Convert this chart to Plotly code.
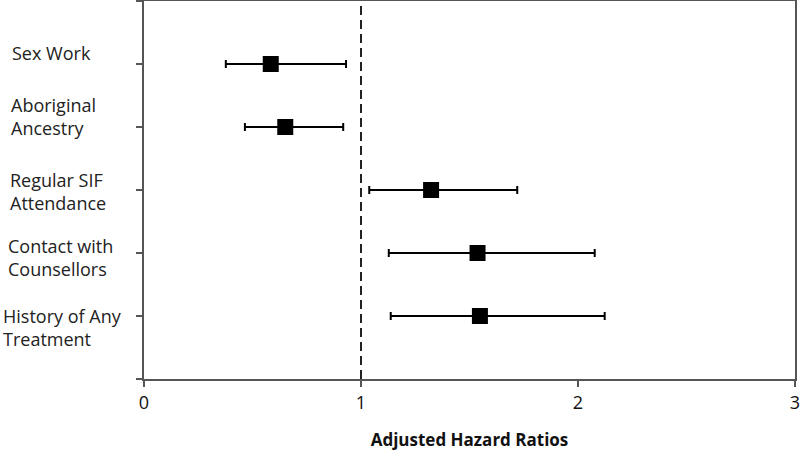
import plotly.graph_objects as go

categories = ["Sex Work", "Aboriginal Ancestry", "Regular SIF Attendance",
              "Contact with Counsellors", "History of Any Treatment"]
label_lines = [["Sex Work"], ["Aboriginal", "Ancestry"], ["Regular SIF", "Attendance"],
               ["Contact with", "Counsellors"], ["History of Any", "Treatment"]]
hr = [0.584, 0.651, 1.323, 1.537, 1.548]
ci_low = [0.377, 0.465, 1.038, 1.128, 1.137]
ci_high = [0.931, 0.918, 1.720, 2.077, 2.123]
y_pos = [5, 4, 3, 2, 1]
x_ticks = [0, 1, 2, 3]
x_title = "Adjusted Hazard Ratios"

# label layout (pixel offsets)
label_x_px = [10, 9, 8, 6, 1]
label_center_px = [53, 116.5, 191.5, 257, 327]

fig = go.Figure()
fig.add_trace(go.Scatter(
    x=hr, y=y_pos, mode="markers",
    marker=dict(symbol="square", size=16, color="black"),
    error_x=dict(type="data", symmetric=False,
                 array=[h - hv for h, hv in zip(ci_high, hr)],
                 arrayminus=[hv - l for hv, l in zip(hr, ci_low)],
                 color="black", thickness=2, width=4),
    showlegend=False, cliponaxis=False,
))

fig.add_shape(type="line", x0=1, x1=1, y0=0, y1=6, xref="x", yref="y",
              line=dict(color="#222222", width=2, dash="9px,5px"), layer="below")

W, H = 800, 456
ml, mr, mt, mb = 144, 5, 1, 77
for lines, lx, cy in zip(label_lines, label_x_px, label_center_px):
    fig.add_annotation(
        text="<br>".join(lines), xref="paper", yref="paper",
        x=(lx - ml) / (W - ml - mr), y=1 - (cy - mt) / (H - mt - mb),
        xanchor="left", yanchor="middle", align="left", showarrow=False,
        font=dict(family="Open Sans", size=18, color="#222222"),
    )

axis_line = dict(showline=True, linecolor="#555555", linewidth=2, mirror=True,
                 ticks="outside", ticklen=6, tickcolor="#555555", tickwidth=2,
                 showgrid=False, zeroline=False, automargin=False)

fig.update_xaxes(range=[0, 3], tickvals=x_ticks, ticktext=[str(v) for v in x_ticks],
                 ticklabeloverflow="allow",
                 tickfont=dict(family="Open Sans", size=18, color="#111111"),
                 title=dict(text="<b>" + x_title + "</b>", standoff=22,
                            font=dict(family="Open Sans", size=17, color="#111111")),
                 **axis_line)
fig.update_yaxes(range=[0, 6], tickvals=[0, 1, 2, 3, 4, 5, 6], showticklabels=False,
                 **axis_line)

fig.update_layout(width=W, height=H, margin=dict(l=ml, r=mr, t=mt, b=mb, autoexpand=False),
                  plot_bgcolor="white", paper_bgcolor="white")

fig.write_html("out.html", config={"displayModeBar": False},
               post_script="document.body.style.margin='0';document.body.style.overflow='hidden';")
